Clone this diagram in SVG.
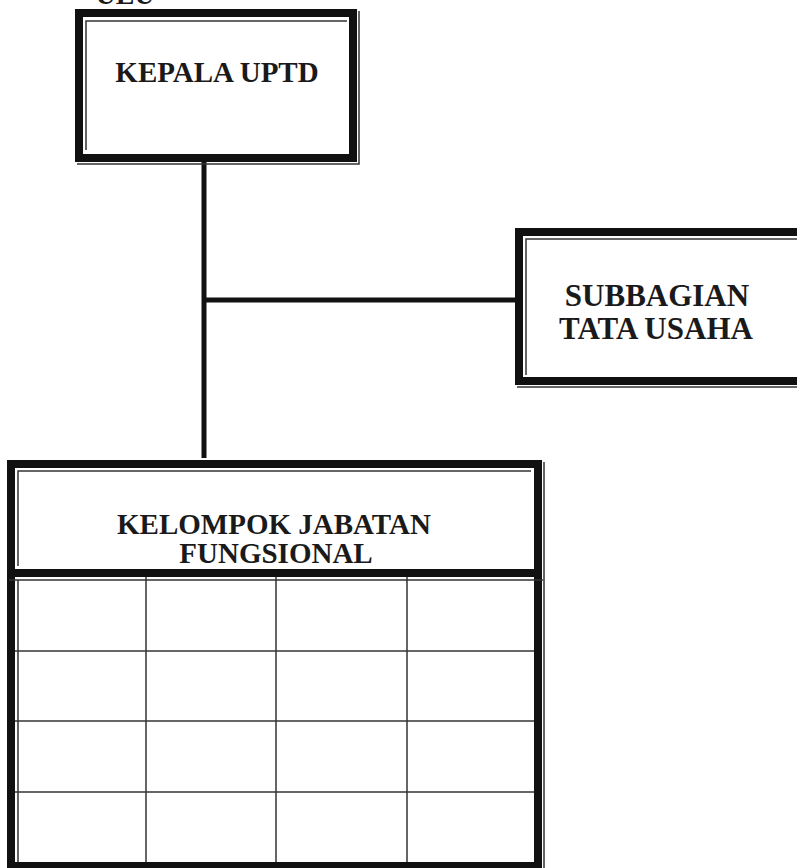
<svg xmlns="http://www.w3.org/2000/svg" width="797" height="868" viewBox="0 0 797 868">
<style>
.thick{fill:none;stroke:#111;stroke-width:8}
.thin{fill:none;stroke:#333;stroke-width:1.5}
.grid{fill:none;stroke:#333;stroke-width:1.5}
.conn{fill:none;stroke:#111;stroke-width:5}
.lbl{font-family:"Liberation Serif","Times New Roman",serif;font-weight:bold;fill:#1a1a1a;text-anchor:middle}
</style>
<rect width="797" height="868" fill="#fff"/>
<text class="lbl" x="125" y="4" font-size="28">UEU</text>
<g id="connectors">
<line class="conn" x1="204" y1="160" x2="204" y2="458"/>
<line class="conn" x1="204" y1="300" x2="518" y2="300"/>
</g>
<g id="kepala">
<rect class="thick" x="79" y="13" width="274" height="145"/>
<path class="thin" d="M86 150 V21 H347 M77 164 H359 V11"/>
<text class="lbl" x="217" y="82" font-size="29">KEPALA UPTD</text>
</g>
<g id="subbagian">
<rect class="thick" x="519" y="232" width="300" height="149"/>
<path class="thin" d="M526 375 V239 H797 M517 387 H797"/>
<text class="lbl" x="657" y="306" font-size="31">SUBBAGIAN</text>
<text class="lbl" x="656" y="339" font-size="31">TATA USAHA</text>
</g>
<g id="kelompok">
<rect class="thick" x="11" y="464" width="527" height="402"/>
<line class="thick" x1="7" y1="573" x2="542" y2="573"/>
<path class="thin" d="M18 566 V471 H531 M9 580 H543 M18 580 V862 M544 462 V868"/>
<line class="grid" x1="146" y1="577" x2="146" y2="862"/>
<line class="grid" x1="276" y1="577" x2="276" y2="862"/>
<line class="grid" x1="407" y1="577" x2="407" y2="862"/>
<line class="grid" x1="15" y1="651" x2="534" y2="651"/>
<line class="grid" x1="15" y1="721" x2="534" y2="721"/>
<line class="grid" x1="15" y1="792" x2="534" y2="792"/>
<text class="lbl" x="274" y="534" font-size="29">KELOMPOK JABATAN</text>
<text class="lbl" x="276" y="563" font-size="29">FUNGSIONAL</text>
</g>
</svg>
